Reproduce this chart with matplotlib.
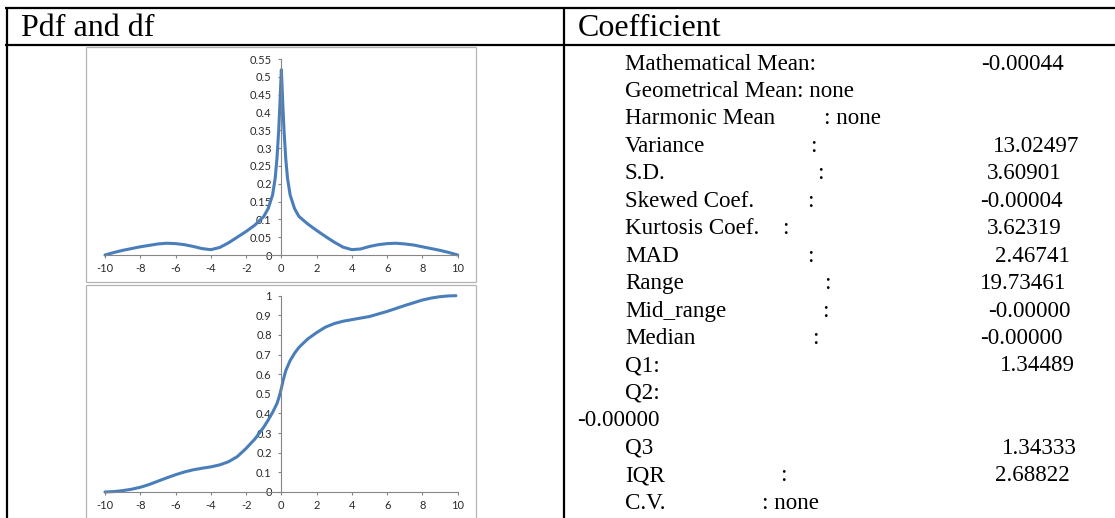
import matplotlib
matplotlib.use("Agg")
import matplotlib.pyplot as plt
from matplotlib.lines import Line2D

# ---------------- data ----------------
pdf_x = [-10, -9.5, -9, -8.5, -8, -7.5, -7, -6.5, -6, -5.5, -5, -4.5, -4, -3.5, -3,
         -2.5, -2, -1.5, -1, -0.75, -0.5, -0.35, -0.25, -0.15, -0.08, -0.03, 0,
         0.03, 0.08, 0.15, 0.25, 0.35, 0.5, 0.75, 1, 1.5, 2, 2.5, 3, 3.5, 4, 4.5,
         5, 5.5, 6, 6.5, 7, 7.5, 8, 8.5, 9, 9.5, 10]
pdf_y = [0.000, 0.007, 0.013, 0.018, 0.023, 0.027, 0.031, 0.033, 0.032, 0.029, 0.024,
         0.018, 0.015, 0.021, 0.034, 0.050, 0.066, 0.084, 0.108, 0.130, 0.168, 0.215,
         0.270, 0.350, 0.425, 0.485, 0.520,
         0.485, 0.425, 0.350, 0.270, 0.215, 0.168, 0.130, 0.108, 0.087, 0.069, 0.052,
         0.036, 0.022, 0.015, 0.017, 0.024, 0.029, 0.032, 0.033, 0.031, 0.028, 0.023,
         0.018, 0.013, 0.007, 0.000]

cdf_x = [-10, -9.5, -9, -8.5, -8, -7.5, -7, -6.5, -6, -5.5, -5, -4.5, -4, -3.5, -3,
         -2.5, -2, -1.5, -1, -0.75, -0.5, -0.25, -0.1, 0, 0.1, 0.25, 0.5, 0.75, 1,
         1.5, 2, 2.5, 3, 3.5, 4, 4.5, 5, 5.5, 6, 6.5, 7, 7.5, 8, 8.5, 9, 9.5, 9.9]
cdf_y = [0.000, 0.002, 0.007, 0.014, 0.024, 0.038, 0.055, 0.072, 0.088, 0.102, 0.113,
         0.121, 0.128, 0.138, 0.154, 0.180, 0.222, 0.270, 0.330, 0.366, 0.405, 0.450,
         0.492, 0.528, 0.568, 0.618, 0.670, 0.707, 0.737, 0.780, 0.812, 0.840, 0.858,
         0.870, 0.878, 0.886, 0.894, 0.907, 0.920, 0.935, 0.950, 0.964, 0.978, 0.988,
         0.995, 0.999, 1.000]

pdf_yticks = [0, 0.05, 0.1, 0.15, 0.2, 0.25, 0.3, 0.35, 0.4, 0.45, 0.5, 0.55]
pdf_yticklabels = ["0", "0.05", "0.1", "0.15", "0.2", "0.25", "0.3", "0.35", "0.4",
                   "0.45", "0.5", "0.55"]
cdf_yticks = [0, 0.1, 0.2, 0.3, 0.4, 0.5, 0.6, 0.7, 0.8, 0.9, 1]
cdf_yticklabels = ["0", "0.1", "0.2", "0.3", "0.4", "0.5", "0.6", "0.7", "0.8", "0.9", "1"]
xticks = [-10, -8, -6, -4, -2, 0, 2, 4, 6, 8, 10]
xticklabels = ["-10", "-8", "-6", "-4", "-2", "0", "2", "4", "6", "8", "10"]

header_left = "Pdf and df"
header_right = "Coefficient"

stat_names = ["Mathematical Mean:", "Geometrical Mean: none", "Harmonic Mean", "Variance",
              "S.D.", "Skewed Coef.", "Kurtosis Coef.", "MAD", "Range", "Mid_range",
              "Median", "Q1:", "Q2:", "", "Q3", "IQR", "C.V."]
stat_seps = ["", "", ": none", ":", ":", ":", ":", ":", ":", ":", ":", "", "", "", "",
             ":", ": none"]
stat_values = ["-0.00044", "", "", "13.02497", "3.60901", "-0.00004", "3.62319",
               "2.46741", "19.73461", "-0.00000", "-0.00000", "1.34489", "",
               "-0.00000", "1.34333", "2.68822", ""]

# ---------------- layout (pixels) ----------------
W, H = 1115, 518
sep_x = [0, 0, 824, 810, 817, 807, 782, 807, 824, 822, 812, 0, 0, 0, 0, 780, 762]
val_x = [981, 0, 0, 993, 987, 980, 987, 995, 980, 988, 980, 1000, 0, 577, 1002, 995, 0]


def fx(x):
    return x / W


def fy(y):
    return 1 - y / H


fig = plt.figure(figsize=(W / 100, H / 100), dpi=100)
fig.patch.set_facecolor("white")

serif = ["Liberation Serif", "DejaVu Serif"]
black_lw = 1.6


def fline(x0, y0, x1, y1, color="black", lw=black_lw):
    fig.add_artist(Line2D([fx(x0), fx(x1)], [fy(y0), fy(y1)], color=color, lw=lw,
                          transform=fig.transFigure, solid_capstyle="butt"))


# table lines
fline(5, 7.5, W, 7.5)
fline(5, 45, W, 45)
fline(6.5, 7, 6.5, H)
fline(563.5, 7, 563.5, H)

# header texts
fig.text(fx(21), fy(36.5), header_left, family=serif, fontsize=23, va="baseline", ha="left")
fig.text(fx(578), fy(36.5), header_right, family=serif, fontsize=23, va="baseline", ha="left")

# stats
for i, name in enumerate(stat_names):
    yb = 69.5 + 27.45 * i
    if name:
        fig.text(fx(625), fy(yb), name, family=serif, fontsize=16.6, va="baseline", ha="left")
    if stat_seps[i]:
        fig.text(fx(sep_x[i]), fy(yb), stat_seps[i], family=serif, fontsize=16.6,
                 va="baseline", ha="left")
    if stat_values[i]:
        fig.text(fx(val_x[i]), fy(yb), stat_values[i], family=serif, fontsize=16.6,
                 va="baseline", ha="left")

# chart frames
frame_c = "#b4b4b4"
fline(86, 47, 476, 47, frame_c, 0.9)
fline(86, 282, 476, 282, frame_c, 0.9)
fline(86, 47, 86, 282, frame_c, 0.9)
fline(476, 47, 476, 282, frame_c, 0.9)
fline(86, 285, 476, 285, frame_c, 0.9)
fline(86, 285, 86, H, frame_c, 0.9)
fline(476, 285, 476, H, frame_c, 0.9)

axis_c = "#868686"
line_c = "#4A7EBB"
tick_font = ["Lato", "DejaVu Sans"]


def make_axes(left, right, top, bottom, x, y, ylim, yticks, yticklabels):
    ax = fig.add_axes([fx(left), fy(bottom), fx(right) - fx(left), fy(top) - fy(bottom)])
    ax.patch.set_alpha(0)
    ax.plot(x, y, color=line_c, lw=2.2, solid_joinstyle="round", solid_capstyle="round",
            clip_on=False)
    ax.set_xlim(-10, 10)
    ax.set_ylim(*ylim)
    for s in ["top", "right"]:
        ax.spines[s].set_visible(False)
    ax.spines["left"].set_position(("data", 0))
    ax.spines["left"].set_color(axis_c)
    ax.spines["bottom"].set_color(axis_c)
    ax.spines["left"].set_linewidth(0.8)
    ax.spines["bottom"].set_linewidth(0.8)
    ax.set_xticks(xticks)
    ax.set_xticklabels(xticklabels)
    ax.set_yticks(yticks)
    ax.set_yticklabels(yticklabels)
    ax.tick_params(axis="both", direction="out", length=2.5, width=0.8, color=axis_c,
                   labelsize=8, labelcolor="#2a2a2a")
    ax.tick_params(axis="y", pad=4.5)
    ax.tick_params(axis="x", pad=3)
    for lab in ax.get_xticklabels() + ax.get_yticklabels():
        lab.set_family(tick_font)
    return ax


make_axes(105, 457.7, 59, 255, pdf_x, pdf_y, (0, 0.55), pdf_yticks, pdf_yticklabels)
make_axes(105, 457.7, 295.7, 492, cdf_x, cdf_y, (0, 1.0), cdf_yticks, cdf_yticklabels)

fig.savefig("out.png", dpi=100)
